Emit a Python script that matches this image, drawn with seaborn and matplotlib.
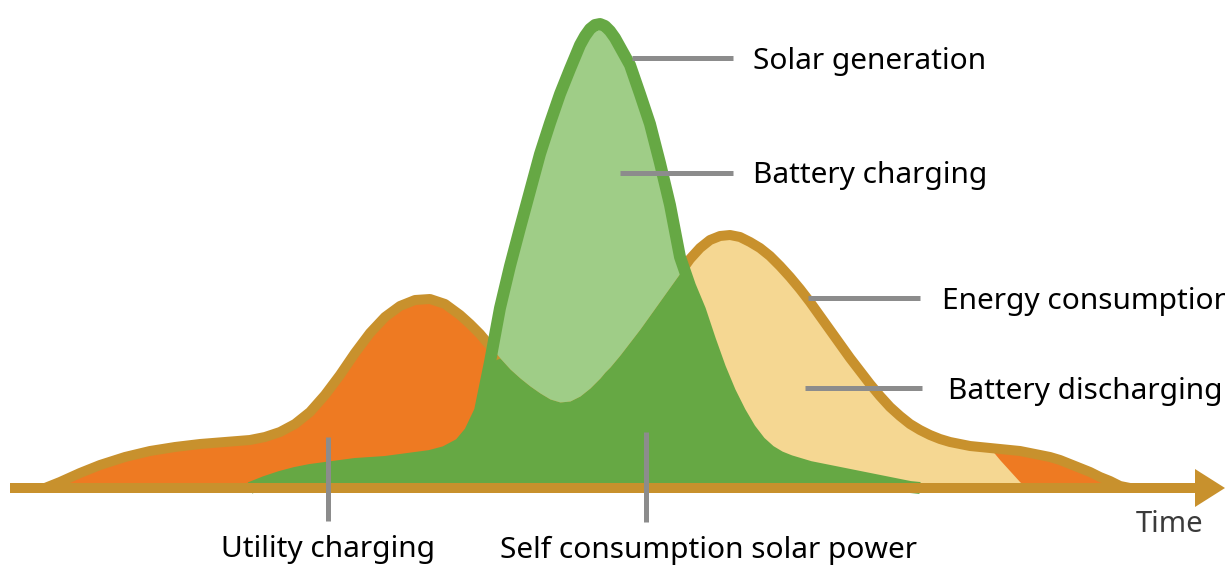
import numpy as np
import pandas as pd
import matplotlib
matplotlib.use("Agg")
import matplotlib.pyplot as plt
import seaborn as sns

# time axis (arbitrary units across the day, night on the left, evening on the right)
time = [30, 45, 60, 80, 100, 125, 150, 175, 200, 225, 250, 265, 280, 295,
        310, 325, 340, 355, 370, 385, 400, 415, 430, 445, 460, 470, 480, 490,
        500, 510, 520, 530, 540, 550, 560, 570, 580, 585, 590, 595, 600, 605,
        610, 615, 620, 630,
        640, 650, 660, 670, 680, 690, 700, 710, 720, 730, 740, 750, 760, 770,
        780, 790, 800, 810, 820, 830, 840, 850, 860, 870, 880, 890, 900, 910,
        920, 930, 940, 950, 960, 970, 980, 990, 1000, 1010, 1020, 1030, 1040,
        1050, 1060, 1070, 1080, 1090, 1100, 1110, 1120, 1130]

# household energy consumption (power level)
consumption = [0, 0, 6, 15, 23, 31, 37, 41, 44, 46, 48, 51, 56, 64,
               76, 93, 113, 135, 155, 171, 182, 188, 189, 184, 173, 164, 154, 142,
               130, 119, 110, 102, 95, 89, 86, 87, 92, 96, 100, 105, 110, 116,
               121, 127, 133, 146,
               159, 173, 187, 201, 215, 229, 240, 248, 252, 253, 251, 246, 240, 232,
               222, 211, 199, 186, 172, 158, 144, 130, 117, 104, 92, 81, 72, 64,
               58, 53, 49, 46, 44, 42, 41, 40, 39, 38, 37, 35, 33,
               31, 28, 24, 20, 16, 11, 7, 2, 0]

# solar generation (power level)
solar = [0, 0, 0, 0, 0, 0, 0, 0, 0, 0, 0, 6, 11, 15,
         18, 20, 22, 24, 25, 26, 28, 30, 32, 36, 44, 56, 77, 126,
         180, 222, 260, 297, 334, 365, 394, 419, 443, 452, 459, 463, 464, 462,
         457, 450, 441, 423,
         394, 364, 325, 283, 231, 202, 178, 148, 120, 96, 76, 59, 46, 37,
         31, 27, 24, 21, 19, 17, 15, 13, 11, 9, 7, 5, 3, 1,
         0, 0, 0, 0, 0, 0, 0, 0, 0, 0, 0, 0, 0,
         0, 0, 0, 0, 0, 0, 0, 0, 0]

# battery runs empty at the end of the evening
battery_tail = {1000: 28, 1010: 17, 1020: 6, 1030: 0}
discharge_start = 680

labels_right = ["Solar generation", "Battery charging",
                "Energy consumption", "Battery discharging"]
labels_bottom = ["Utility charging", "Self consumption solar power"]

GOLD = "#C8912D"
ORANGE = "#EE7A22"
DARK_GREEN = "#66A844"
LIGHT_GREEN = "#9FCD87"
YELLOW = "#F5D792"
GRAY = "#8C8C8C"

df = pd.DataFrame({"time": time, "consumption": consumption, "solar": solar})
t = df["time"].to_numpy(float)
cons = df["consumption"].to_numpy(float)
sol = df["solar"].to_numpy(float)

# battery discharge covers the gap between consumption and solar until it runs dry
discharge_top = np.where(t >= discharge_start, cons, 0.0)
for k, v in battery_tail.items():
    discharge_top[t == k] = v
discharge_top[t > max(battery_tail)] = 0

sns.set_theme(style="white")
plt.rcParams["font.family"] = ["Noto Sans", "DejaVu Sans"]

fig = plt.figure(figsize=(12.25, 5.65), dpi=100)
ax = fig.add_axes([0, 0, 1, 1])
ax.set_xlim(0, 1225)
ax.set_ylim(-77, 488)
ax.axis("off")

# utility charging (everything under consumption first)
ax.fill_between(t, 0, cons, color=ORANGE, lw=0, zorder=1)
# battery discharging
ax.fill_between(t, sol, discharge_top, where=discharge_top > sol,
                interpolate=True, color=YELLOW, lw=0, zorder=2)
# consumption outline
sns.lineplot(data=df, x="time", y="consumption", color=GOLD, lw=7.2,
             ax=ax, zorder=3, solid_joinstyle="round", sort=False)
# self consumption of solar power
ax.fill_between(t, 0, np.minimum(sol, cons), color=DARK_GREEN, lw=0, zorder=4)
# surplus solar goes into the battery
ax.fill_between(t, cons, sol, where=sol > cons, interpolate=True,
                color=LIGHT_GREEN, lw=0, zorder=5)
# solar outline
sun = df[(df["time"] >= 250) & (df["time"] <= 920)]
sns.lineplot(data=sun, x="time", y="solar", color=DARK_GREEN, lw=8.6,
             ax=ax, zorder=6, solid_joinstyle="round", solid_capstyle="butt", sort=False)

# time axis arrow
ax.arrow(10, 0, 1215, 0, width=10, head_width=38, head_length=30,
         length_includes_head=True, color=GOLD, lw=0, zorder=7)

# leader lines and labels (the reference cuts "Energy consumption" at the right edge)
right_leaders = [(632, 733, 430), (620, 733, 315), (808, 920, 190), (805, 922, 100)]
right_text = [(753, 426), (753, 313), (942, 187), (948, 97)]
for (x0, x1, y), (tx, ty), lab in zip(right_leaders, right_text, labels_right):
    ax.plot([x0, x1], [y, y], color=GRAY, lw=3.6, solid_capstyle="butt", zorder=8)
    ax.text(tx, ty, lab, fontsize=21.5, color="black", va="center", ha="left", zorder=9)

bottom_leaders = [(328, 51, -33), (646, 56, -34)]
bottom_text = [(328, -62), (709, -62)]
for (x, y0, y1), (tx, ty), lab in zip(bottom_leaders, bottom_text, labels_bottom):
    ax.plot([x, x], [y0, y1], color=GRAY, lw=3.6, solid_capstyle="butt", zorder=8)
    ax.text(tx, ty, lab, fontsize=21.5, color="black", va="center", ha="center", zorder=9)

ax.text(1170, -36, "Time", fontsize=21, color="#3A3A3A", va="center", ha="center", zorder=9)

if ax.get_legend() is not None:
    ax.get_legend().remove()

fig.savefig("out.png", dpi=100)
